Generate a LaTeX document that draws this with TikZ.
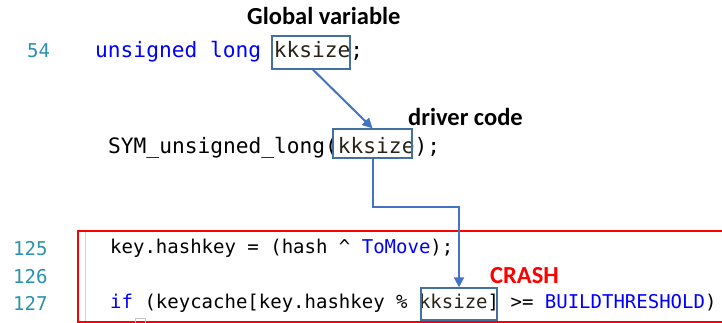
\documentclass[tikz,border=0pt]{standalone}
\usepackage{fontspec}
\setmainfont{Carlito}
\newfontfamily\codefont{DejaVu Sans Mono}
\usetikzlibrary{arrows.meta}
\definecolor{kw}{HTML}{0000FF}
\definecolor{lnum}{HTML}{2B91AF}
\definecolor{ident}{HTML}{2A2418}
\definecolor{arrowblue}{HTML}{4472C4}
\definecolor{boxblue}{HTML}{41719C}
\definecolor{crashred}{HTML}{FF0000}
\definecolor{gutter}{HTML}{D4D4D4}

\begin{document}
\begin{tikzpicture}[x=1pt,y=-1pt,
  tag/.style={anchor=base west,inner sep=0pt,font=\fontsize{24.5}{28}\selectfont\bfseries},
  codebig/.style={anchor=base west,inner sep=0pt,font=\codefont\fontsize{21.2}{24}\selectfont},
  codesmall/.style={anchor=base west,inner sep=0pt,font=\codefont\fontsize{19.0}{22}\selectfont},
  lineno/.style={anchor=base west,inner sep=0pt,text=lnum,font=\codefont\fontsize{19}{22}\selectfont},
  hl/.style={draw=boxblue,line width=1.4pt,inner sep=0pt},
  arr/.style={draw=arrowblue,line width=2pt,-{Triangle[length=10pt,width=10pt]}},
]
\fill[white] (0,0) rectangle (722,323);
\useasboundingbox (0,0) rectangle (722,323);

% editor frame around the crashing lines
\draw[crashred,line width=1.5pt] (78,231) rectangle (740,322);
\draw[gutter,line width=1pt] (85,232) -- (85,321);
\draw[gray!45,line width=0.8pt] (135,318) rectangle (145,330);

% annotations
\node[tag] (glob) at (247,25) {Global variable};
\node[tag] (drv) at (408,126) {driver code};
\node[tag,text=crashred] (crash) at (490,283) {CRASH};

% source lines
\node[lineno] (n54) at (27,58) {54};
\node[codebig] (c54) at (95,58) {\textcolor{kw}{unsigned long} \textcolor{ident}{kksize};};
\node[codebig] (csym) at (108,154) {SYM\_unsigned\_long(\textcolor{ident}{kksize});};

\node[lineno] (n125) at (13,255) {125};
\node[lineno] (n126) at (13,283) {126};
\node[lineno] (n127) at (13,310) {127};
\node[codesmall] (c125) at (110,253) {key.hashkey = (hash \textasciicircum\ \textcolor{kw}{ToMove});};
\node[codesmall] (c127) at (110,308) {\textcolor{kw}{if} (keycache[key.hashkey \% \textcolor{ident}{kksize}] >= \textcolor{kw}{BUILDTHRESHOLD})};

% highlighted uses of kksize
\node[hl,minimum width=78pt,minimum height=33pt] (box1) at (311,52.5) {};
\node[hl,minimum width=79pt,minimum height=29pt] (box2) at (372.5,143.5) {};
\node[hl,minimum width=76pt,minimum height=32pt] (box3) at (459,304) {};

% flow of the value
\coordinate (turn) at (462,207);
\draw[arr] ([xshift=2pt]box1.south) -- (box2.north);
\draw[arr] (box2.south) |- (turn -| box3.north) -- (box3.north);
\end{tikzpicture}
\end{document}
